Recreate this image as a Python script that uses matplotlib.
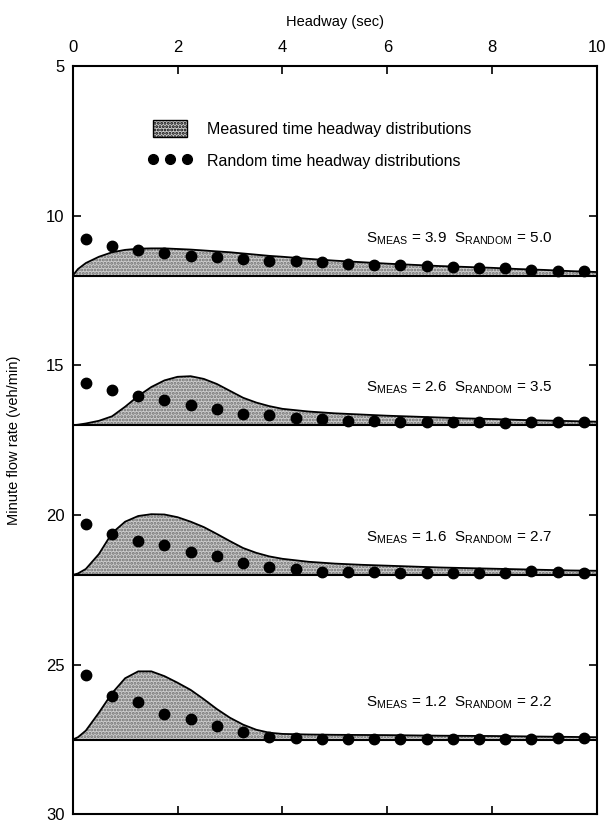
import numpy as np
import matplotlib
matplotlib.use("Agg")
import matplotlib.pyplot as plt
from matplotlib.patches import Patch
from matplotlib.lines import Line2D
from matplotlib.legend_handler import HandlerLine2D

plt.rcParams['font.family'] = ['Liberation Sans', 'DejaVu Sans']
plt.rcParams['mathtext.fontset'] = 'custom'
plt.rcParams['mathtext.rm'] = 'Liberation Sans'
plt.rcParams['hatch.linewidth'] = 1.4

# headway (sec) where the measured curves were read
headway = [0, 0.1, 0.25, 0.5, 0.75, 1.0, 1.25, 1.5, 1.75, 2.0, 2.25, 2.5, 2.75, 3.0,
           3.25, 3.5, 3.75, 4.0, 4.5, 5.0, 5.5, 6.0, 6.5, 7.0, 7.5, 8.0, 8.5, 9.0, 9.5, 10.0]

# measured distribution heights above each baseline
measured_1 = [0, 0.22, 0.42, 0.63, 0.78, 0.86, 0.9, 0.91, 0.91, 0.89, 0.87, 0.84, 0.81, 0.78,
              0.74, 0.70, 0.66, 0.63, 0.56, 0.50, 0.45, 0.40, 0.36, 0.32, 0.29, 0.26, 0.22, 0.19, 0.15, 0.12]
measured_2 = [0, 0.02, 0.06, 0.15, 0.3, 0.62, 0.98, 1.28, 1.5, 1.62, 1.64, 1.55, 1.38, 1.15,
              0.92, 0.76, 0.64, 0.55, 0.46, 0.40, 0.36, 0.32, 0.29, 0.26, 0.23, 0.21, 0.18, 0.16, 0.14, 0.12]
measured_3 = [0, 0.05, 0.2, 0.7, 1.4, 1.78, 1.97, 2.03, 2.02, 1.93, 1.78, 1.6, 1.37, 1.13,
              0.9, 0.74, 0.62, 0.54, 0.44, 0.38, 0.34, 0.31, 0.28, 0.25, 0.23, 0.21, 0.19, 0.17, 0.15, 0.14]
measured_4 = [0, 0.08, 0.3, 0.9, 1.55, 2.05, 2.28, 2.28, 2.12, 1.9, 1.66, 1.35, 1.02, 0.73,
              0.5, 0.33, 0.23, 0.19, 0.17, 0.16, 0.155, 0.15, 0.14, 0.13, 0.125, 0.12, 0.11, 0.1, 0.09, 0.08]

# random (exponential) distribution points, 0.5 sec bins
bin_mid = [0.25, 0.75, 1.25, 1.75, 2.25, 2.75, 3.25, 3.75, 4.25, 4.75,
           5.25, 5.75, 6.25, 6.75, 7.25, 7.75, 8.25, 8.75, 9.25, 9.75]
random_1 = [1.22, 0.98, 0.84, 0.76, 0.65, 0.61, 0.56, 0.50, 0.48, 0.44,
            0.40, 0.37, 0.35, 0.33, 0.29, 0.27, 0.24, 0.19, 0.17, 0.14]
random_2 = [1.41, 1.17, 0.98, 0.86, 0.69, 0.53, 0.39, 0.33, 0.24, 0.20,
            0.14, 0.14, 0.11, 0.11, 0.11, 0.10, 0.08, 0.10, 0.10, 0.10]
random_3 = [1.71, 1.37, 1.14, 0.99, 0.77, 0.63, 0.40, 0.26, 0.19, 0.11,
            0.10, 0.10, 0.08, 0.08, 0.06, 0.06, 0.08, 0.12, 0.10, 0.08]
random_4 = [2.17, 1.47, 1.26, 0.86, 0.68, 0.47, 0.26, 0.08, 0.04, 0.03,
            0.03, 0.03, 0.03, 0.03, 0.03, 0.03, 0.03, 0.03, 0.05, 0.07]

baselines = [12, 17, 22, 27.5]
s_meas = ["3.9", "2.6", "1.6", "1.2"]
s_random = ["5.0", "3.5", "2.7", "2.2"]

measured = [measured_1, measured_2, measured_3, measured_4]
randoms = [random_1, random_2, random_3, random_4]

fill_color = '#cdcdcd'
hatch_color = '#6e6e6e'

fig = plt.figure(figsize=(6.11, 8.26), dpi=100)
ax = fig.add_axes([0.119, 0.014, 0.858, 0.906])

for base, m, r, sm, sr in zip(baselines, measured, randoms, s_meas, s_random):
    top = base - np.array(m)
    ax.fill_between(headway, base, top, facecolor=fill_color, edgecolor=hatch_color,
                    hatch='.....', linewidth=0, zorder=1)
    ax.plot(headway, top, color='black', lw=1.3, zorder=2)
    ax.axhline(base, color='black', lw=1.5, zorder=2)
    ax.plot(bin_mid, base - np.array(r), 'o', color='black', markersize=7.5,
            linestyle='none', zorder=3)
    ax.text(5.6, base - 1.25,
            r'S$_{\mathrm{MEAS}}$ = ' + sm + r'  S$_{\mathrm{RANDOM}}$ = ' + sr,
            fontsize=11, ha='left', va='center')

ax.set_xlim(0, 10)
ax.set_ylim(30, 5)
ax.set_xticks([0, 2, 4, 6, 8, 10])
ax.set_yticks([5, 10, 15, 20, 25, 30])
ax.xaxis.set_label_position('top')
ax.tick_params(axis='x', top=True, bottom=True, labeltop=True, labelbottom=False,
               direction='in', length=6, width=1.2, labelsize=12, pad=8)
ax.tick_params(axis='y', left=True, right=True, direction='in', length=6,
               width=1.2, labelsize=12, pad=6)
ax.set_xlabel('Headway (sec)', fontsize=10.5, labelpad=10)
ax.set_ylabel('Minute flow rate (veh/min)', fontsize=10.5, labelpad=18)
for sp in ax.spines.values():
    sp.set_linewidth(1.5)

dots = Line2D([], [], marker='o', color='black', linestyle='none', markersize=7)
handles = [Patch(facecolor=fill_color, edgecolor='black', hatch='.....', linewidth=1.0), dots]
labels = ['Measured time headway distributions', 'Random time headway distributions']
ax.legend(handles, labels, loc='upper left', bbox_to_anchor=(0.138, 0.938),
          frameon=False, numpoints=3, handlelength=2.1, handleheight=1.2,
          handletextpad=1.3, labelspacing=0.95, borderpad=0, fontsize=11.5,
          handler_map={dots: HandlerLine2D(marker_pad=0, numpoints=3)})

fig.savefig('out.png', dpi=100)
